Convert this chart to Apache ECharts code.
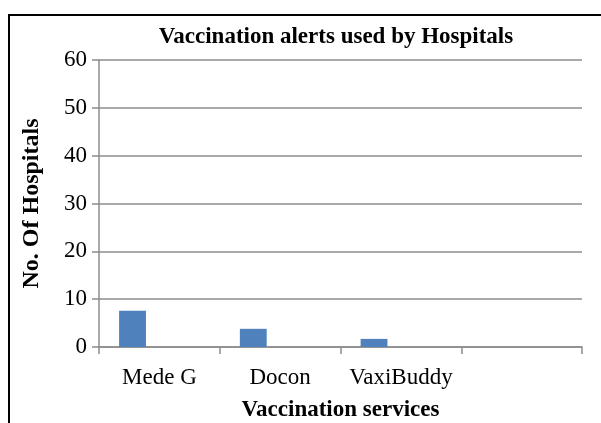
<!DOCTYPE html>
<html>
<head>
<meta charset="utf-8">
<script src="https://cdn.jsdelivr.net/npm/echarts@6/dist/echarts.min.js"></script>
<style>
  html, body { margin: 0; padding: 0; background: #fff; }
  #main { width: 601px; height: 423px; }
</style>
</head>
<body>
<div id="main"></div>
<script>
// 数据
const categories = ['Mede G', 'Docon', 'VaxiBuddy', '']
const hospitals = [7.6, 3.8, 1.7, '-']
const emptyA = ['-', '-', '-', '-']
const emptyB = ['-', '-', '-', '-']
const yTicks = { min: 0, max: 60, interval: 10 }

const myChart = echarts.init(document.getElementById('main'))
const serif = '"Liberation Serif", "DejaVu Serif", serif'
const gray = '#8c8c8c'

const option = {
  animation: false,
  backgroundColor: '#fff',
  title: {
    text: 'Vaccination alerts used by Hospitals',
    left: 331,
    textAlign: 'center',
    top: 21,
    textStyle: {
      fontFamily: serif,
      fontSize: 23,
      fontWeight: 'bold',
      color: '#000'
    }
  },
  graphic: [{
    type: 'rect',
    shape: { x: 9, y: 15, width: 620, height: 440 },
    style: { fill: 'none', stroke: '#000', lineWidth: 2 },
    silent: true
  }],
  grid: {
    left: 99,
    right: 19,
    top: 60,
    bottom: 76,
    outerBoundsMode: 'none'
  },
  xAxis: {
    type: 'category',
    data: categories,
    name: 'Vaccination services',
    nameLocation: 'middle',
    nameGap: 52,
    nameTextStyle: {
      fontFamily: serif,
      fontSize: 23,
      fontWeight: 'bold',
      color: '#000'
    },
    axisLine: { lineStyle: { color: gray, width: 1.5 } },
    axisTick: { show: true, length: 7, alignWithLabel: false, lineStyle: { color: gray, width: 1.5 } },
    axisLabel: {
      fontFamily: serif,
      fontSize: 23,
      color: '#000',
      margin: 19,
      interval: 0
    }
  },
  yAxis: {
    type: 'value',
    min: yTicks.min,
    max: yTicks.max,
    interval: yTicks.interval,
    name: 'No. Of Hospitals',
    nameLocation: 'middle',
    nameGap: 55,
    nameTextStyle: {
      fontFamily: serif,
      fontSize: 24,
      fontWeight: 'bold',
      color: '#000'
    },
    axisLine: { show: true, lineStyle: { color: gray, width: 1.5 } },
    axisTick: { show: true, length: 7, lineStyle: { color: gray, width: 1.5 } },
    axisLabel: {
      fontFamily: serif,
      fontSize: 23,
      color: '#000',
      margin: 12
    },
    splitLine: { show: true, lineStyle: { color: gray, width: 1.5 } }
  },
  series: [{
    name: 'Hospitals',
    type: 'bar',
    data: hospitals,
    barGap: '0%',
    barCategoryGap: '33.3%',
    itemStyle: { color: '#4f81bd' }
  }, {
    name: 'a',
    type: 'bar',
    data: emptyA,
    barGap: '0%',
    barCategoryGap: '33.3%'
  }, {
    name: 'b',
    type: 'bar',
    data: emptyB,
    barGap: '0%',
    barCategoryGap: '33.3%'
  }]
}

myChart.setOption(option)
</script>
</body>
</html>
